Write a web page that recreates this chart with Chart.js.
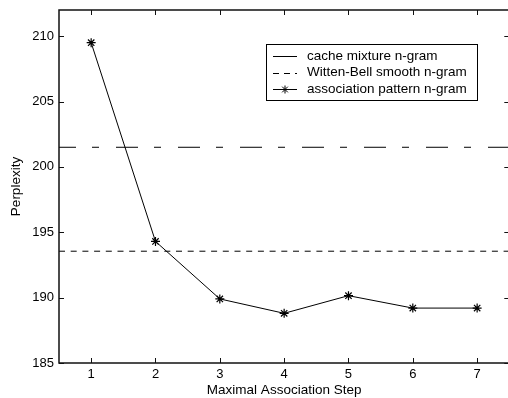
<!DOCTYPE html>
<html>
<head>
<meta charset="utf-8">
<script src="https://cdn.jsdelivr.net/npm/chart.js@4.4.1/dist/chart.umd.min.js"></script>
<style>
  html, body { margin: 0; padding: 0; background: #fff; overflow: hidden; }
</style>
</head>
<body>
<canvas id="perplexityChart" width="515" height="398"></canvas>
<script>
// Data
const steps = [1, 2, 3, 4, 5, 6, 7];
const associationPattern = [209.5, 194.3, 189.9, 188.8, 190.15, 189.2, 189.2];
const cacheMixture = 201.5;   // flat baseline
const wittenBell = 193.55;    // flat baseline
const xTicks = [1, 2, 3, 4, 5, 6, 7];
const yTicks = [185, 190, 195, 200, 205, 210];
const xLimits = [0.5, 7.5];
const yLimits = [185, 212];
const seriesNames = ['cache mixture n-gram', 'Witten-Bell smooth n-gram', 'association pattern n-gram'];

Chart.defaults.font.family = '"Liberation Sans", Arial, Helvetica, sans-serif';
Chart.defaults.color = '#000';

// MATLAB style box with inward ticks
const boxPlugin = {
    id: 'box',
    afterDraw(chart) {
        const { ctx, chartArea: a, scales } = chart;
        const len = 5;
        ctx.save();
        ctx.strokeStyle = '#111';
        ctx.lineWidth = 1;
        xTicks.forEach((v) => {
            const px = Math.round(scales.x.getPixelForValue(v)) + 0.5;
            ctx.beginPath();
            ctx.moveTo(px, a.bottom); ctx.lineTo(px, a.bottom - len);
            ctx.moveTo(px, a.top); ctx.lineTo(px, a.top + len);
            ctx.stroke();
        });
        yTicks.forEach((v) => {
            const py = Math.round(scales.y.getPixelForValue(v)) + 0.5;
            ctx.beginPath();
            ctx.moveTo(a.left, py); ctx.lineTo(a.left + len, py);
            ctx.moveTo(a.right, py); ctx.lineTo(a.right - len, py);
            ctx.stroke();
        });
        ctx.lineWidth = 1.5;
        ctx.strokeRect(a.left, a.top, a.right - a.left, a.bottom - a.top);
        ctx.restore();
    }
};

// legend box drawn inside the plot
const legendPlugin = {
    id: 'insideLegend',
    afterDraw(chart) {
        const ctx = chart.ctx;
        const x0 = 266.5, y0 = 44.5, w = 211, h = 56;
        const rows = [56, 72.5, 89];
        ctx.save();
        ctx.fillStyle = '#fff';
        ctx.fillRect(x0, y0, w, h);
        ctx.strokeStyle = '#000';
        ctx.lineWidth = 1;
        ctx.strokeRect(x0, y0, w, h);
        ctx.font = '13.5px "Liberation Sans", Arial, sans-serif';
        ctx.textBaseline = 'middle';
        ctx.fillStyle = '#000';
        const dashes = [[], [6, 5], []];
        seriesNames.forEach((name, i) => {
            const y = Math.round(rows[i]) + 0.5;
            ctx.setLineDash(dashes[i]);
            ctx.beginPath();
            ctx.moveTo(273, y); ctx.lineTo(297, y);
            ctx.stroke();
            ctx.setLineDash([]);
            if (i === 2) {
                Chart.helpers.drawPoint(ctx, { pointStyle: 'star', radius: 4, borderWidth: 1 }, 285, y);
            }
            ctx.fillText(name, 307, rows[i]);
        });
        ctx.restore();
    }
};

const flat = (v) => xLimits.map((x) => ({ x: x, y: v }));

new Chart(document.getElementById('perplexityChart').getContext('2d'), {
    type: 'line',
    data: {
        datasets: [
            {
                label: seriesNames[2],
                data: steps.map((s, i) => ({ x: s, y: associationPattern[i] })),
                borderColor: '#000',
                backgroundColor: '#000',
                borderWidth: 1,
                pointStyle: 'star',
                pointRadius: 4.5,
                pointBorderWidth: 1.2,
                pointBorderColor: '#000',
                tension: 0,
                order: 0
            },
            {
                label: seriesNames[0],
                data: flat(cacheMixture),
                borderColor: '#000',
                borderWidth: 1,
                borderDash: [22, 16, 7, 17],
                borderDashOffset: 5,
                pointRadius: 0,
                order: 1
            },
            {
                label: seriesNames[1],
                data: flat(wittenBell),
                borderColor: '#000',
                borderWidth: 1,
                borderDash: [6, 5.7],
                pointRadius: 0,
                order: 2
            }
        ]
    },
    options: {
        responsive: false,
        animation: false,
        layout: { padding: { top: 10, right: 3, left: 0, bottom: 0 } },
        plugins: {
            legend: { display: false },
            tooltip: { enabled: false }
        },
        scales: {
            x: {
                type: 'linear',
                min: xLimits[0],
                max: xLimits[1],
                grid: { display: false, tickLength: 0 },
                border: { display: false },
                afterBuildTicks: (scale) => { scale.ticks = xTicks.map((v) => ({ value: v })); },
                afterFit: (scale) => { scale.height = 35; scale.paddingLeft = 0; scale.paddingRight = 0; },
                ticks: { font: { size: 13 }, padding: 4, maxRotation: 0 },
                title: {
                    display: true,
                    text: 'Maximal Association Step',
                    font: { size: 13.5 },
                    padding: { top: 0, bottom: 0 }
                }
            },
            y: {
                min: yLimits[0],
                max: yLimits[1],
                grid: { display: false, tickLength: 0 },
                border: { display: false },
                afterBuildTicks: (scale) => { scale.ticks = yTicks.map((v) => ({ value: v })); },
                afterFit: (scale) => { scale.width = 59; scale.paddingTop = 0; scale.paddingBottom = 0; },
                ticks: { font: { size: 13 }, padding: 5 },
                title: {
                    display: true,
                    text: 'Perplexity',
                    font: { size: 13.5 },
                    padding: { top: 8, bottom: 0 }
                }
            }
        }
    },
    plugins: [boxPlugin, legendPlugin]
});
</script>
</body>
</html>
